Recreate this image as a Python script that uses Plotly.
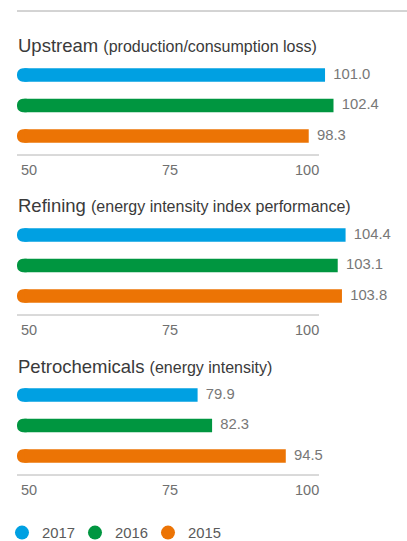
import plotly.graph_objects as go

# ---- data ----
sections = ["Upstream", "Refining", "Petrochemicals"]
subtitles = ["(production/consumption loss)", "(energy intensity index performance)", "(energy intensity)"]
years = ["2017", "2016", "2015"]
upstream = [101.0, 102.4, 98.3]
refining = [104.4, 103.1, 103.8]
petrochemicals = [79.9, 82.3, 94.5]
tick_vals = [50, 75, 100]
tick_text = ["50", "75", "100"]
axis_start = 50

values = [upstream, refining, petrochemicals]
colors = ["#00A0E2", "#009640", "#EC7405"]

W, H = 407, 541
FONT = "Liberation Sans"


def py(p):
    return 1 - p / H


PX_PER_UNIT = 6.04
LEFT = 17
x_max = axis_start + (W - LEFT) / PX_PER_UNIT
SECTION_STEP = 160
CAP_UNITS = 2.5      # length of the rounded cap piece (data units)
SQUARE_FROM = 1.2    # where the square-ended piece begins (units above axis start)

fig = go.Figure()
layout_axes = {}
shapes = []
annotations = []

for i, (name, sub, vals) in enumerate(zip(sections, subtitles, values)):
    off = SECTION_STEP * i
    xa = "x" if i == 0 else f"x{i+1}"
    ya = "y" if i == 0 else f"y{i+1}"
    xkey = "xaxis" if i == 0 else f"xaxis{i+1}"
    ykey = "yaxis" if i == 0 else f"yaxis{i+1}"
    pos = list(range(len(vals)))
    top_px = 75 + off - 15.25
    bot_px = 136 + off + 15.25
    layout_axes[xkey] = dict(domain=[LEFT / W, 1], range=[axis_start, x_max], visible=False,
                             anchor=ya, fixedrange=True)
    layout_axes[ykey] = dict(domain=[py(bot_px), py(top_px)], range=[2.5, -0.5], visible=False,
                             anchor=xa, fixedrange=True)
    # rounded left cap
    fig.add_trace(go.Bar(
        orientation="h", y=pos, base=[axis_start] * len(vals), x=[CAP_UNITS] * len(vals),
        marker=dict(color=colors, cornerradius="50%", line=dict(width=0)),
        width=0.44, xaxis=xa, yaxis=ya, showlegend=False, hoverinfo="skip"))
    # square-ended main bar
    fig.add_trace(go.Bar(
        orientation="h", y=pos, base=[axis_start + SQUARE_FROM] * len(vals),
        x=[v - axis_start - SQUARE_FROM for v in vals],
        marker=dict(color=colors, line=dict(width=0)),
        width=0.44, xaxis=xa, yaxis=ya, showlegend=False, hoverinfo="skip"))
    fig.add_trace(go.Scatter(
        x=vals, y=pos, mode="text", text=[f"  {v:.1f}" for v in vals],
        textposition="middle right", textfont=dict(family=FONT, size=14.8, color="#777777"),
        xaxis=xa, yaxis=ya, showlegend=False, hoverinfo="skip", cliponaxis=False))
    # axis baseline
    shapes.append(dict(type="line", xref=xa, yref="paper", x0=tick_vals[0], x1=tick_vals[-1],
                       y0=py(155 + off), y1=py(155 + off), line=dict(color="#B4B4B4", width=1)))
    # tick labels
    anchors = ["left", "center", "right"]
    for tv, tt, an in zip(tick_vals, tick_text, anchors):
        annotations.append(dict(x=tv, y=py(170 + off), xref=xa, yref="paper", text=tt,
                                showarrow=False, xanchor=an, yanchor="middle", xshift=2,
                                font=dict(family=FONT, size=14.5, color="#707070")))
    # section title
    annotations.append(dict(x=LEFT / W, y=py(46 + off), xref="paper", yref="paper",
                            text=f"{name} <span style='font-size:16px'>{sub}</span>",
                            showarrow=False, xanchor="left", yanchor="middle", xshift=-1,
                            font=dict(family=FONT, size=18.5, color="#3A3A3A")))

# top rule
shapes.append(dict(type="line", xref="paper", yref="paper", x0=LEFT / W, x1=1,
                   y0=py(11), y1=py(11), line=dict(color="#A8A8A8", width=1)))

# legend entries
for yr, c in zip(years, colors):
    fig.add_trace(go.Scatter(x=[None], y=[None], mode="markers", name=yr,
                             marker=dict(color=c, size=14, symbol="circle"), showlegend=True))

fig.update_layout(
    width=W, height=H, margin=dict(l=0, r=0, t=0, b=0, autoexpand=False),
    paper_bgcolor="white", plot_bgcolor="white",
    font=dict(family=FONT, color="#555555"),
    barmode="overlay",
    shapes=shapes, annotations=annotations,
    legend=dict(orientation="h", x=2 / W, xanchor="left", y=py(533), yanchor="middle",
                font=dict(family=FONT, size=14.8, color="#5A5A5A"),
                itemwidth=30, tracegroupgap=0, bgcolor="rgba(0,0,0,0)",
                entrywidth=28, entrywidthmode="pixels"),
    **layout_axes,
)

fig.write_html(
    "out.html",
    config={"displayModeBar": False},
    post_script=(
        "document.documentElement.style.margin='0';"
        "document.body.style.margin='0';"
        "document.documentElement.style.overflow='hidden';"
        "document.body.style.overflow='hidden';"
    ),
)
